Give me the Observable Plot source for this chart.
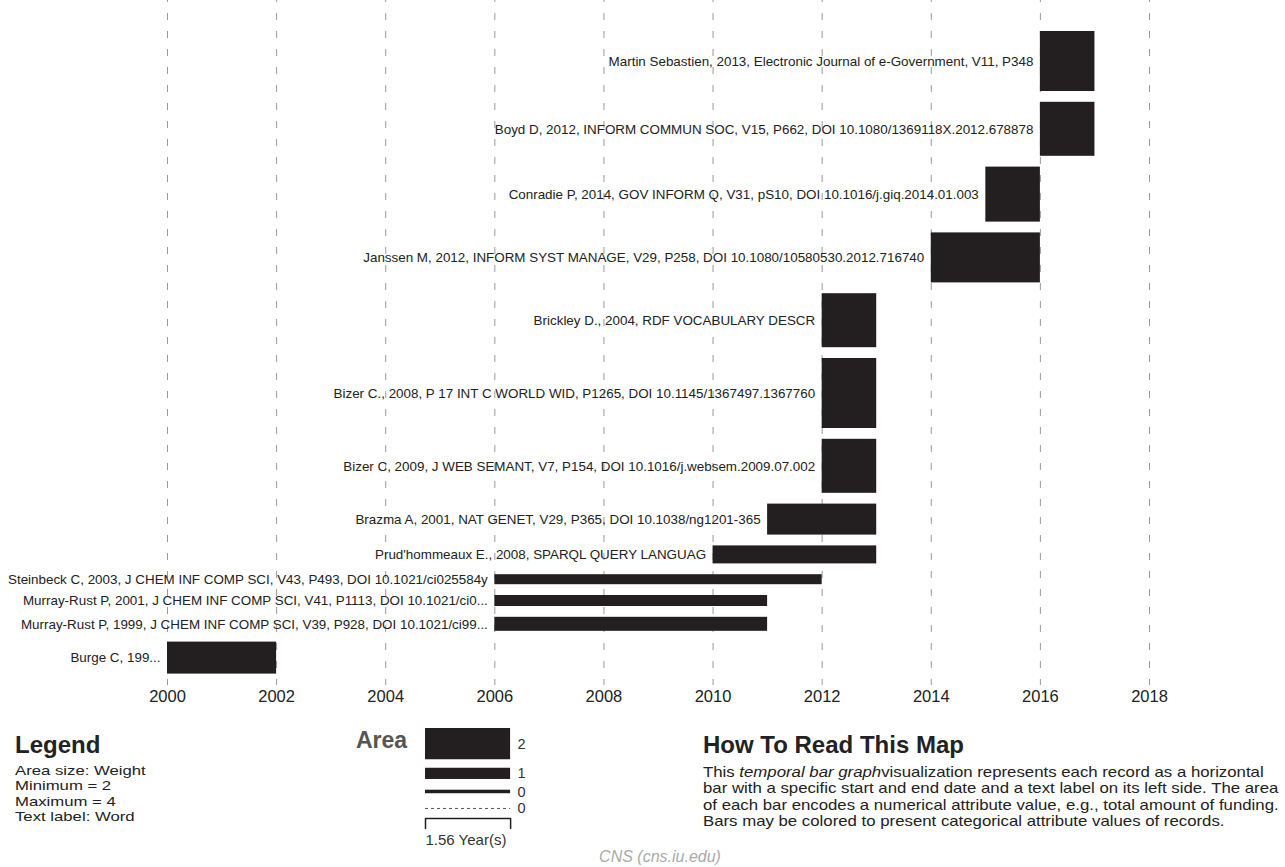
<!DOCTYPE html>
<html><head><meta charset="utf-8">
<script src="https://cdn.jsdelivr.net/npm/d3@7"></script>
<script src="https://cdn.jsdelivr.net/npm/@observablehq/plot@0.6"></script>
<style>
body{margin:0;background:#fff;font-family:"Liberation Sans",Arial,Helvetica,sans-serif;}
#wrap{position:relative;width:1285px;height:867px;overflow:hidden;background:#fff;}
#wrap svg{position:absolute;font-family:"Liberation Sans",Arial,Helvetica,sans-serif;}
.abs{position:absolute;white-space:nowrap;color:#222;}
.h{font-weight:bold;font-size:24px;line-height:26px;}
.wide{transform-origin:left top;}
</style></head><body><div id="wrap"></div>
<script>
// ---------- data ----------
const labels = [
  "Martin Sebastien, 2013, Electronic Journal of e-Government, V11, P348",
  "Boyd D, 2012, INFORM COMMUN SOC, V15, P662, DOI 10.1080/1369118X.2012.678878",
  "Conradie P, 2014, GOV INFORM Q, V31, pS10, DOI 10.1016/j.giq.2014.01.003",
  "Janssen M, 2012, INFORM SYST MANAGE, V29, P258, DOI 10.1080/10580530.2012.716740",
  "Brickley D., 2004, RDF VOCABULARY DESCR",
  "Bizer C., 2008, P 17 INT C WORLD WID, P1265, DOI 10.1145/1367497.1367760",
  "Bizer C, 2009, J WEB SEMANT, V7, P154, DOI 10.1016/j.websem.2009.07.002",
  "Brazma A, 2001, NAT GENET, V29, P365, DOI 10.1038/ng1201-365",
  "Prud'hommeaux E., 2008, SPARQL QUERY LANGUAG",
  "Steinbeck C, 2003, J CHEM INF COMP SCI, V43, P493, DOI 10.1021/ci025584y",
  "Murray-Rust P, 2001, J CHEM INF COMP SCI, V41, P1113, DOI 10.1021/ci0...",
  "Murray-Rust P, 1999, J CHEM INF COMP SCI, V39, P928, DOI 10.1021/ci99...",
  "Burge C, 199..."
];
const starts  = [2016, 2016, 2015, 2014, 2012, 2012, 2012, 2011, 2010, 2006, 2006, 2006, 2000];
const ends    = [2017, 2017, 2016, 2016, 2013, 2013, 2013, 2013, 2013, 2012, 2011, 2011, 2002];
const weights = [2.4, 2.16, 2.2, 4.0, 2.16, 2.8, 2.16, 2.48, 2.16, 2.4, 2.2, 2.8, 2.56];
const tickYears = [2000, 2002, 2004, 2006, 2008, 2010, 2012, 2014, 2016, 2018];

const legendWeights = [1.95, 0.7, 0.22, 0];
const legendLabels  = ["2", "1", "0", "0"];
const legendSpan = 1.56; // years
const legendLines = ["Area size: Weight", "Minimum = 2", "Maximum = 4", "Text label: Word"];

// ---------- layout ----------
const AREA = 25;   // layout units per (weight * year)
const GAP = 10.8;
const TOP = 31;
let cur = 0;
const rows = labels.map((label, i) => {
  const h = weights[i] * AREA / (ends[i] - starts[i]);
  const r = {label, start: starts[i], end: ends[i], y1: cur, y2: cur + h, yc: cur + h / 2};
  cur += h + GAP;
  return r;
});
const total = cur - GAP;
const FRAME_BOTTOM = 685;
const H = 715;

const wrap = document.getElementById("wrap");

const chart = Plot.plot({
  width: 1285, height: H,
  marginLeft: 167, marginRight: 136, marginTop: 0, marginBottom: H - FRAME_BOTTOM,
  style: {background: "transparent", fontFamily: "Liberation Sans, Arial, sans-serif"},
  x: {domain: [2000, 2018], axis: null},
  y: {domain: [0, total], range: [TOP, TOP + total], axis: null},
  marks: [
    Plot.ruleX(tickYears, {stroke: "#9a9a9a", strokeWidth: 1, strokeDasharray: "7,11", strokeDashoffset: 5}),
    Plot.rect(rows, {x1: "start", x2: "end", y1: "y1", y2: "y2", fill: "#231f20"}),
    Plot.text(rows, {x: "start", y: "yc", text: "label", textAnchor: "end", dx: -7, fontSize: 13.4, fill: "#222"}),
    Plot.axisX(tickYears, {tickSize: 0, tickPadding: 5, tickFormat: d => String(d), fontSize: 16.5, fill: "#222", label: null})
  ]
});
chart.style.left = "0px"; chart.style.top = "0px";
wrap.appendChild(chart);

// ---------- legend mini chart ----------
const LGAP = 8.5;
const MIN_ROW = 8;
let lc = 0;
const lrows = legendWeights.map((w, i) => {
  const h = w * AREA / legendSpan;
  const rowH = Math.max(h, MIN_ROW);
  const r = {label: legendLabels[i], w, yc: lc + rowH / 2, y1: lc + rowH / 2 - h / 2, y2: lc + rowH / 2 + h / 2};
  lc += rowH + LGAP;
  return r;
});
const dashed = lrows.filter(d => d.w === 0);
const solid = lrows.filter(d => d.w > 0);
const bracketTop = lrows[lrows.length - 1].yc + 10;
const bracket = [
  {x: 0, y: bracketTop + 10}, {x: 0, y: bracketTop},
  {x: legendSpan, y: bracketTop}, {x: legendSpan, y: bracketTop + 10}
];
const legendChart = Plot.plot({
  width: 160, height: 135,
  marginLeft: 25, marginRight: 160 - 25 - legendSpan * (982 / 18), marginTop: 0, marginBottom: 0,
  style: {background: "transparent", fontFamily: "Liberation Sans, Arial, sans-serif"},
  x: {domain: [0, legendSpan], axis: null},
  y: {domain: [0, 135], range: [8, 143], axis: null},
  marks: [
    Plot.rect(solid, {x1: 0, x2: legendSpan, y1: "y1", y2: "y2", fill: "#231f20"}),
    Plot.ruleY(dashed, {y: "yc", x1: 0, x2: legendSpan, stroke: "#555", strokeDasharray: "3,3"}),
    Plot.text(lrows, {x: legendSpan, y: "yc", text: "label", textAnchor: "start", dx: 7, fontSize: 14.5, fill: "#333"}),
    Plot.line(bracket, {x: "x", y: "y", stroke: "#231f20", strokeWidth: 1.5}),
    Plot.text([{t: legendSpan.toFixed(2) + " Year(s)"}], {x: 0, y: bracketTop + 22, text: "t", textAnchor: "start", fontSize: 15, fill: "#333"})
  ]
});
legendChart.style.left = "400px"; legendChart.style.top = "720px";
wrap.appendChild(legendChart);

// ---------- html text ----------
function addDiv(html, css, cls) {
  const d = document.createElement("div");
  d.className = "abs " + (cls || "");
  d.innerHTML = html;
  Object.assign(d.style, css);
  wrap.appendChild(d);
  return d;
}
addDiv("Legend", {left: "15px", top: "732px"}, "h");
addDiv(legendLines.join("<br>"), {left: "15px", top: "763px", fontSize: "13.6px", lineHeight: "15.4px", transform: "scaleX(1.23)"}, "wide");
addDiv("Area", {left: "356px", top: "727px", color: "#555", fontSize: "23px"}, "h");
addDiv("How To Read This Map", {left: "703px", top: "732px"}, "h");
addDiv("This <i>temporal bar graph</i>visualization represents each record as a horizontal<br>" +
  "bar with a specific start and end date and a text label on its left side. The area<br>" +
  "of each bar encodes a numerical attribute value, e.g., total amount of funding.<br>" +
  "Bars may be colored to present categorical attribute values of records.",
  {left: "703px", top: "764px", fontSize: "14.6px", lineHeight: "16.4px", transform: "scaleX(1.15)"}, "wide");
addDiv("CNS (cns.iu.edu)", {left: "560px", top: "848px", width: "200px", textAlign: "center", fontSize: "16px", fontStyle: "italic", color: "#aaa"});
</script></body></html>
